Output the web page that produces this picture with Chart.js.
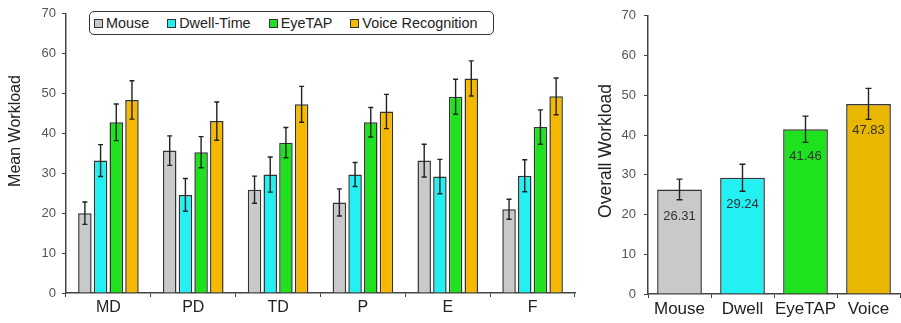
<!DOCTYPE html>
<html>
<head>
<meta charset="utf-8">
<script src="https://cdn.jsdelivr.net/npm/chart.js@4/dist/chart.umd.min.js"></script>
<style>
  html, body { margin: 0; padding: 0; background: #fff; }
  body { width: 901px; height: 323px; position: relative; overflow: hidden; font-family: "Liberation Sans", Arial, sans-serif; }
  #leftBox { position: absolute; left: 0; top: 0; width: 580px; height: 323px; }
  #rightBox { position: absolute; left: 580px; top: 0; width: 321px; height: 323px; }
  #legend {
    position: absolute; left: 89px; top: 11px; width: 399px; height: 22px;
    border: 1.5px solid #333; border-radius: 5px; background: #fff;
    display: flex; align-items: center; padding-left: 4px; box-sizing: content-box;
    font-size: 14.4px; color: #222; white-space: nowrap;
  }
  #legend .item { display: flex; align-items: center; margin-right: 18px; }
  #legend .sw { width: 7px; height: 7px; border: 1px solid #333; margin-right: 3px; }
</style>
</head>
<body>
<div id="leftBox"><canvas id="left" width="580" height="323"></canvas></div>
<div id="rightBox"><canvas id="right" width="321" height="323"></canvas></div>
<div id="legend"></div>
<script>
// Workload subscales (left panel)
const subscales = ['MD', 'PD', 'TD', 'P', 'E', 'F'];
const seriesNames = ['Mouse', 'Dwell-Time', 'EyeTAP', 'Voice Recognition'];
const mouseMean = [20.0, 35.7, 25.9, 22.7, 33.2, 21.0];
const mouseErr  = [2.8, 3.7, 3.4, 3.4, 4.1, 2.5];
const dwellMean = [33.2, 24.6, 29.7, 29.7, 29.2, 29.4];
const dwellErr  = [4.0, 4.1, 4.4, 3.0, 4.3, 4.0];
const eyetapMean = [42.8, 35.3, 37.7, 42.8, 49.2, 41.6];
const eyetapErr  = [4.6, 3.9, 3.8, 3.7, 4.4, 4.3];
const voiceMean = [48.4, 43.1, 47.3, 45.5, 53.8, 49.3];
const voiceErr  = [4.8, 4.8, 4.5, 4.3, 4.4, 4.6];

// Overall workload (right panel)
const methods = ['Mouse', 'Dwell', 'EyeTAP', 'Voice'];
const overallMean = [26.31, 29.24, 41.46, 47.83];
const overallErr  = [2.6, 3.4, 3.3, 3.9];

const yTicks = [0, 10, 20, 30, 40, 50, 60, 70];

const colors = ['#c9c9c9', '#22f0f2', '#1ee21e', '#f7b900'];
const rightColors = ['#c9c9c9', '#22f0f2', '#1ee21e', '#e9b700'];
const edge = '#333';
const FONT = '"Liberation Sans", Arial, sans-serif';

Chart.defaults.font.family = FONT;
Chart.defaults.animation = false;

// HTML legend
const legendEl = document.getElementById('legend');
seriesNames.forEach((name, i) => {
  const it = document.createElement('div');
  it.className = 'item';
  const sw = document.createElement('span');
  sw.className = 'sw';
  sw.style.background = colors[i];
  const tx = document.createElement('span');
  tx.textContent = name;
  it.appendChild(sw); it.appendChild(tx);
  legendEl.appendChild(it);
});

// Error bars with caps, from each dataset's `errors` array
const errorBars = {
  id: 'errorBars',
  afterDatasetsDraw(chart, args, opts) {
    const ctx = chart.ctx;
    const y = chart.scales.y;
    ctx.save();
    ctx.strokeStyle = '#222';
    ctx.lineWidth = 1.4;
    chart.data.datasets.forEach((ds, di) => {
      const meta = chart.getDatasetMeta(di);
      meta.data.forEach((bar, i) => {
        const v = ds.data[i], e = ds.errors[i];
        const yt = y.getPixelForValue(v + e);
        const yb = y.getPixelForValue(v - e);
        const x = bar.x;
        const c = opts.cap || 2.5;
        ctx.beginPath();
        ctx.moveTo(x, yt); ctx.lineTo(x, yb);
        ctx.moveTo(x - c, yt); ctx.lineTo(x + c, yt);
        ctx.moveTo(x - c, yb); ctx.lineTo(x + c, yb);
        ctx.stroke();
      });
    });
    ctx.restore();
  }
};

// Rotated y-axis title at a given spot
const axisTitle = {
  id: 'axisTitle',
  afterDraw(chart, args, opts) {
    const ctx = chart.ctx;
    ctx.save();
    ctx.translate(opts.x, opts.y);
    ctx.rotate(-Math.PI / 2);
    ctx.font = opts.size + 'px ' + FONT;
    ctx.fillStyle = '#222';
    ctx.textAlign = 'center';
    ctx.textBaseline = 'middle';
    ctx.fillText(opts.text, 0, 0);
    ctx.restore();
  }
};

// Mean values printed inside the bars
const valueLabels = {
  id: 'valueLabels',
  afterDatasetsDraw(chart, args, opts) {
    if (!opts.enabled) return;
    const ctx = chart.ctx;
    ctx.save();
    ctx.font = '13px ' + FONT;
    ctx.fillStyle = '#333';
    ctx.textAlign = 'center';
    ctx.textBaseline = 'middle';
    const ds = chart.data.datasets[0];
    chart.getDatasetMeta(0).data.forEach((bar, i) => {
      ctx.fillText(ds.data[i].toFixed(2), bar.x, bar.y + 27);
    });
    ctx.restore();
  }
};

function scalesFor(xFont, xHeight, yWidth, yPad) {
  return {
    x: {
      grid: { display: true, drawOnChartArea: false, offset: true, tickLength: 4, color: '#444', lineWidth: 1 },
      border: { display: true, color: '#444', width: 1.5 },
      ticks: { font: { size: xFont }, color: '#222', padding: 1, maxRotation: 0, minRotation: 0, autoSkip: false },
      afterFit: s => { s.height = xHeight; }
    },
    y: {
      min: 0, max: 70,
      afterBuildTicks: s => { s.ticks = yTicks.map(v => ({ value: v })); },
      grid: { display: true, drawOnChartArea: false, tickLength: 4, color: '#444', lineWidth: 1 },
      border: { display: true, color: '#444', width: 1.5 },
      ticks: { font: { size: 13 }, color: '#555', padding: yPad },
      afterFit: s => { s.width = yWidth; }
    }
  };
}

const leftSets = [
  [mouseMean, mouseErr], [dwellMean, dwellErr], [eyetapMean, eyetapErr], [voiceMean, voiceErr]
].map(([m, e], i) => ({
  label: seriesNames[i],
  data: m,
  errors: e,
  backgroundColor: colors[i],
  borderColor: edge,
  borderWidth: 1.5,
  categoryPercentage: 0.74,
  barPercentage: 0.86
}));

new Chart(document.getElementById('left'), {
  type: 'bar',
  data: { labels: subscales, datasets: leftSets },
  options: {
    responsive: false,
    layout: { padding: { top: 13, right: 5, left: 0, bottom: 0 } },
    scales: scalesFor(16, 30, 66, 6),
    plugins: {
      legend: { display: false },
      tooltip: { enabled: false },
      errorBars: { cap: 2.5 },
      axisTitle: { text: 'Mean Workload', x: 16, y: 131, size: 16 },
      valueLabels: { enabled: false }
    }
  },
  plugins: [errorBars, axisTitle, valueLabels]
});

new Chart(document.getElementById('right'), {
  type: 'bar',
  data: {
    labels: methods,
    datasets: [{
      label: 'Overall Workload',
      data: overallMean,
      errors: overallErr,
      backgroundColor: rightColors,
      borderColor: edge,
      borderWidth: 1.5,
      categoryPercentage: 1.0,
      barPercentage: 0.71
    }]
  },
  options: {
    responsive: false,
    layout: { padding: { top: 15, right: 1, left: 0, bottom: 0 } },
    scales: scalesFor(17, 29, 68, 8),
    plugins: {
      legend: { display: false },
      tooltip: { enabled: false },
      errorBars: { cap: 3 },
      axisTitle: { text: 'Overall Workload', x: 26, y: 151, size: 17.5 },
      valueLabels: { enabled: true }
    }
  },
  plugins: [errorBars, axisTitle, valueLabels]
});
</script>
</body>
</html>
